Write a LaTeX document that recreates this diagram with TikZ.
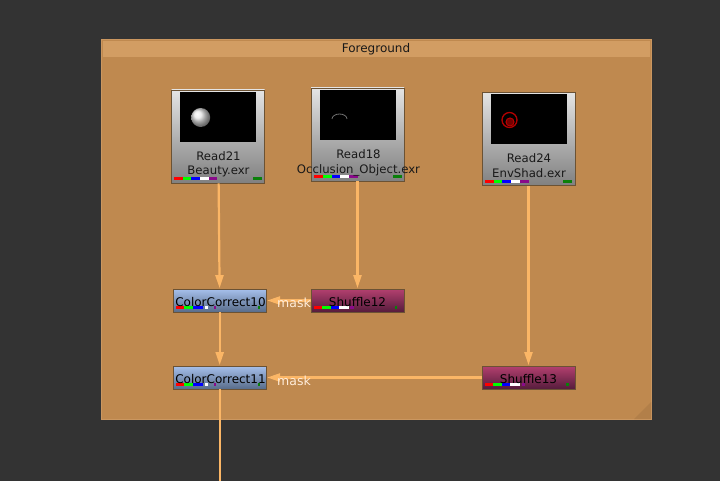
\documentclass[tikz,border=0pt]{standalone}
\usepackage{fontspec}
\setmainfont{DejaVu Sans}
\usepackage{xcolor}
\usetikzlibrary{arrows.meta}

\definecolor{canvasgray}{HTML}{333333}
\definecolor{backdropfill}{HTML}{BF894F}
\definecolor{backdroptitle}{HTML}{D29D63}
\definecolor{backdropedge}{HTML}{CB9760}
\definecolor{backdropfold}{HTML}{B27F49}
\definecolor{wirecolor}{HTML}{FBB666}
\definecolor{chanpurple}{HTML}{8A0A8A}
\definecolor{changreen}{HTML}{0A800A}
\definecolor{nodeedge}{HTML}{6B5234}
\definecolor{readtop}{HTML}{E4E4E4}
\definecolor{readbottom}{HTML}{808080}
\definecolor{cctop}{HTML}{A6C0EC}
\definecolor{ccbottom}{HTML}{586C8A}
\definecolor{shuffletop}{HTML}{B3406F}
\definecolor{shufflebottom}{HTML}{561C3C}

\tikzset{
  readnode/.style={draw=nodeedge, line width=0.7pt, minimum width=93pt, minimum height=93pt,
    inner sep=0pt, top color=readtop, bottom color=readbottom},
  ccnode/.style={draw=nodeedge, line width=0.7pt, minimum width=93pt, minimum height=23pt,
    inner sep=0pt, top color=cctop, bottom color=ccbottom},
  shufflenode/.style={draw=nodeedge, line width=0.7pt, minimum width=93pt, minimum height=23pt,
    inner sep=0pt, top color=shuffletop, bottom color=shufflebottom},
  thumb/.style={fill=black, minimum width=76pt, minimum height=50pt, inner sep=0pt},
  readlabel/.style={align=center, inner sep=0pt, font=\fontsize{11.7}{14.5}\selectfont, text=black!90},
  oplabel/.style={inner sep=0pt, font=\fontsize{12}{14}\selectfont, text=black},
  masklabel/.style={inner sep=0pt, text=white!85!orange, font=\fontsize{12.5}{14}\selectfont},
  wire/.style={wirecolor, line width=2.2pt, -{Triangle[width=8pt,length=13pt]}, shorten >=0.5pt}
}

% colour strip at the foot of a node, offsets from its left edge
\newcommand{\chanbar}[2]{
  \foreach \xa/\xb/\chan in {#2}
    \fill[\chan] ([shift={(\xa,-3)}]#1.south west) rectangle ([shift={(\xb,-6)}]#1.south west);
}

\begin{document}
\begin{tikzpicture}[x=1pt,y=-1pt]
\useasboundingbox (0,0) rectangle (720,481);
\fill[canvasgray] (0,0) rectangle (720,481);

% backdrop
\draw[backdropedge, fill=backdropfill, line width=1pt] (101.5,39.5) rectangle (651.5,419.5);
\fill[backdroptitle] (103,41) rectangle (650,57);
\fill[backdropfold] (651,402) -- (651,419) -- (634,419) -- cycle;
\node[inner sep=0pt, text=black!90, font=\fontsize{12}{14}\selectfont] (title) at (376,49.5) {Foreground};

% read nodes
\node[readnode] (read21) at (218.2,136.5) {};
\node[readnode] (read18) at (357.5,134.5) {};
\node[readnode] (read24) at (528.5,139) {};

\node[thumb] (thumb21) at (218,117) {};
\node[thumb] (thumb18) at (357.5,115) {};
\node[thumb] (thumb24) at (528.5,119.5) {};

\shade[ball color=white!90!black] (200.7,117.5) circle (9.5);
\draw[white!45!black, line width=0.8pt] (332,119) arc (180:360:7.5 and 5);
\draw[red!70!black, line width=1.3pt] (509.5,120) circle (7.5);
\fill[red!45!black] (510,122) circle (4.5);
\draw[red!75!black, line width=0.8pt] (510,122) circle (4);

\chanbar{read21}{3/12/red,12/20/green,20/29/blue,29/38/white,38/46/chanpurple,82/91/changreen}
\chanbar{read18}{3/12/red,12/21/green,21/29/blue,29/38/white,38/47/chanpurple,82/91/changreen}
\chanbar{read24}{3/12/red,12/20/green,20/29/blue,29/38/white,38/47/chanpurple,81/90/changreen}

\node[readlabel] (label21) at (218.5,164.5) {Read21\\Beauty.exr};
\node[readlabel] (label18) at (358.5,163) {Read18\\Occlusion\_Object.exr};
\node[readlabel] (label24) at (529,165.5) {Read24\\EnvShad.exr};

% operators
\node[ccnode] (cc10) at (219.7,300.5) {};
\node[ccnode] (cc11) at (219.7,377.5) {};
\node[shufflenode] (shuffle12) at (357.5,300.5) {};
\node[shufflenode] (shuffle13) at (528.5,377.5) {};

\chanbar{cc10}{3/11/red,11/20/green,20/30/blue,32/35/white,41/43/chanpurple,85/87/changreen}
\chanbar{cc11}{3/11/red,11/20/green,20/30/blue,32/35/white,41/43/chanpurple,85/87/changreen}
\chanbar{shuffle12}{3/11/red,11/20/green,20/28/blue,28/38/white,39/43/chanpurple,84/86/changreen}
\chanbar{shuffle13}{3/11/red,11/20/green,20/28/blue,28/38/white,40/43/chanpurple,84/87/changreen}

\node[oplabel] (cctext10) at (220.5,302) {ColorCorrect10};
\node[oplabel] (cctext11) at (220.5,379) {ColorCorrect11};
\node[oplabel] (shtext12) at (357.5,302.5) {Shuffle12};
\node[oplabel] (shtext13) at (528.5,379.5) {Shuffle13};

% wires
\coordinate (outlet) at (219.7,481);
\draw[wire] (read21) -- (cc10);
\draw[wire] (read18) -- (shuffle12);
\draw[wire] (read24) -- (shuffle13);
\draw[wire] (cc10) -- (cc11);
\draw[wire] (shuffle12) -- (cc10);
\draw[wire] (shuffle13) -- (cc11);
\draw[wirecolor, line width=2.2pt] (cc11) -- (outlet);

\node[masklabel] (mask10) at (294,302.5) {mask};
\node[masklabel] (mask11) at (294,380.5) {mask};
\end{tikzpicture}
\end{document}
